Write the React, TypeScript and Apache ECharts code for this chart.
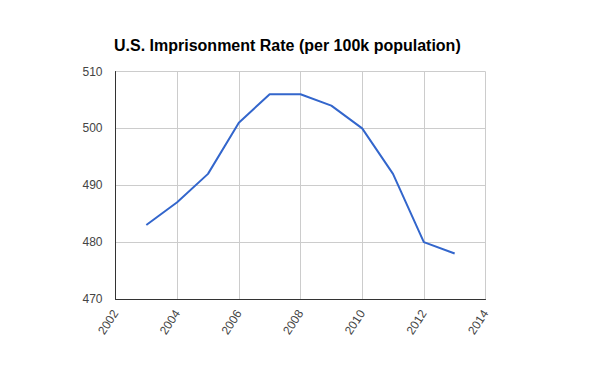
import React, { useEffect, useRef } from "react";
import * as echarts from "echarts";

const years = [2003, 2004, 2005, 2006, 2007, 2008, 2009, 2010, 2011, 2012, 2013];
const rates = [483, 487, 492, 501, 506, 506, 504, 500, 492, 480, 478];
const titleText = "U.S. Imprisonment Rate (per 100k population)";

export default function App() {
  const ref = useRef<HTMLDivElement>(null);
  useEffect(() => {
    const chart = echarts.init(ref.current!, null, { renderer: "svg" });
    chart.setOption({
      animation: false,
      backgroundColor: "#fff",
      title: {
        text: titleText,
        left: 114,
        top: 37,
        padding: 0,
        textStyle: { fontFamily: "Liberation Sans, Arial", fontSize: 16, fontWeight: "bold", color: "#000" },
      },
      grid: { left: 115.5, right: 114.5, top: 71.5, bottom: 72, containLabel: false },
      xAxis: {
        type: "value",
        min: 2002,
        max: 2014,
        interval: 2,
        axisLine: { show: true, onZero: false, lineStyle: { color: "#333", width: 1 } },
        axisTick: { show: false },
        splitLine: { show: true, lineStyle: { color: "#ccc", width: 1 } },
        axisLabel: {
          rotate: 57,
          margin: 12,
          fontFamily: "Liberation Sans, Arial",
          fontSize: 12,
          color: "#444",
          formatter: (v: number) => String(v),
        },
      },
      yAxis: {
        type: "value",
        min: 470,
        max: 510,
        interval: 10,
        axisLine: { show: true, lineStyle: { color: "#333", width: 1 } },
        axisTick: { show: false },
        splitLine: { show: true, lineStyle: { color: "#ccc", width: 1 } },
        axisLabel: {
          margin: 13,
          fontFamily: "Liberation Sans, Arial",
          fontSize: 12,
          color: "#444",
        },
      },
      series: [
        {
          type: "line",
          data: years.map((y, i) => [y, rates[i]]),
          showSymbol: false,
          symbol: "none",
          lineStyle: { color: "#3366cc", width: 2 },
          itemStyle: { color: "#3366cc" },
        },
      ],
    });
    return () => chart.dispose();
  }, []);
  return <div ref={ref} style={{ width: 600, height: 371, position: "absolute", left: 0, top: 0 }} />;
}
